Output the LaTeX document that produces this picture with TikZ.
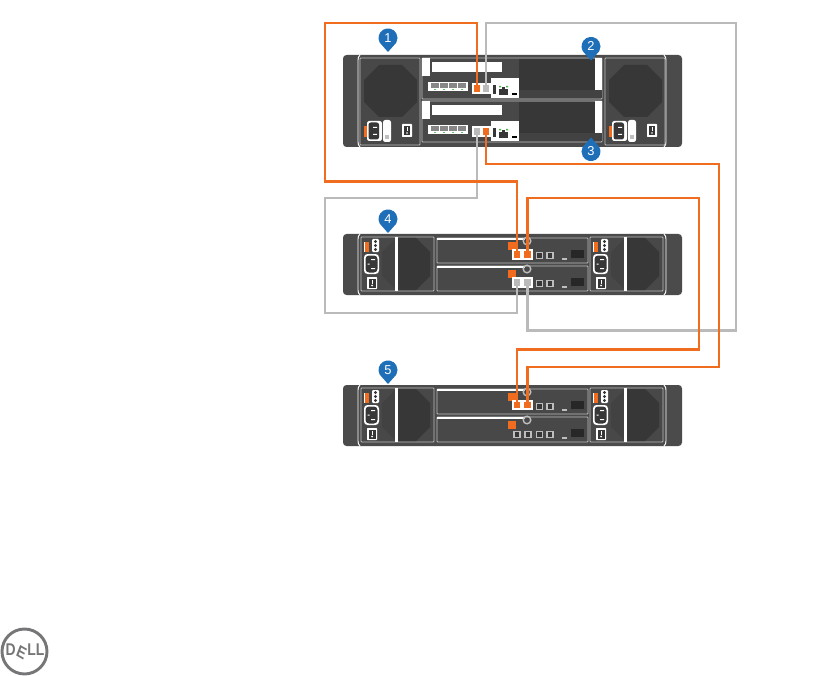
\documentclass[tikz,border=0pt]{standalone}
\usepackage{fontspec}
\setmainfont{Liberation Sans}
\usepackage{xcolor}
\usepackage{graphicx}
\usepackage{tikz}
\usetikzlibrary{positioning, calc}
\definecolor{wireorange}{RGB}{240, 108, 30}
\definecolor{wiregrey}{RGB}{186, 186, 186}
\definecolor{calloutblue}{RGB}{31, 110, 184}
\definecolor{chassis}{RGB}{75, 75, 76}
\definecolor{panel}{RGB}{72, 72, 73}
\definecolor{darkpanel}{RGB}{55, 55, 56}
\definecolor{fanlight}{RGB}{66, 66, 67}
\definecolor{edge}{RGB}{190, 190, 190}
\definecolor{logogrey}{RGB}{118, 118, 120}
\tikzset{
  wire/.style={line width=2.4pt},
  outline/.style={draw=edge, line width=0.7pt, rounded corners=0.6pt},
  orangeport/.style={fill=wireorange, draw=white, line width=1.9pt, minimum size=0.255cm, inner sep=0pt, outer sep=0pt},
  greyport/.style={orangeport, fill=wiregrey},
  callnum/.style={text=white, font=\fontsize{11}{12}\selectfont, inner sep=0pt},
}

% one marker with its digit
\newcommand{\callout}[5]{
  \begin{scope}[shift={(#1,#2)}, rotate=#3]
    \fill[calloutblue] (0,14) -- (-8.2,4.7) arc[start angle=150, end angle=390, radius=9.5] -- cycle;
  \end{scope}
  \node[callnum] (#4) at (#1,#2) {#5};
}

% chassis shell, 61 high
\newcommand{\shell}[1]{
  \fill[chassis, rounded corners=3pt] (343,#1) rectangle (682,#1+61);
  \draw[white, line width=0.8pt] (360,#1) to[out=-135, in=90] (358,#1+5) -- (358,#1+56) to[out=-90, in=135] (360,#1+61);
  \draw[white, line width=0.8pt] (664,#1) to[out=-45, in=90] (666,#1+5) -- (666,#1+56) to[out=-90, in=45] (664,#1+61);
}

% power unit of the expansion shelves
\newcommand{\shelfpsu}[2]{
  \begin{scope}[shift={(#1,#2)}]
    \draw[outline, fill=panel] (361,3) rectangle (434,57);
    \fill[fanlight] (382,18) -- (396,4) -- (396,56) -- (382,42) -- cycle;
    \fill[darkpanel] (398,4) -- (416,4) -- (430,18) -- (430,42) -- (416,56) -- (398,56) -- cycle;
    \fill[white] (395,3) rectangle (398,57);
    \fill[white] (364,8) rectangle (365,18);
    \fill[wireorange] (365,8) rectangle (369,18);
    \fill[white, rounded corners=1pt] (372,5) rectangle (379,18);
    \foreach \y in {7.5,11.5,15.5} \fill[darkpanel] (375.5,\y) circle (1.6);
    \fill[white, rounded corners=3pt] (364,20) rectangle (379,40);
    \fill[darkpanel, rounded corners=3pt] (365.5,21.5) rectangle (377.5,38.5);
    \fill[white] (371,25) rectangle (375,26) (371,34) rectangle (375,35) (367.5,29.5) rectangle (369.5,30.5);
    \fill[white, rounded corners=0.5pt] (367,43) rectangle (377,55);
    \fill[darkpanel] (368.5,44.5) rectangle (375.5,53.5);
    \fill[white] (371.5,45.5) rectangle (372.5,49.5);
    \fill[white] (372,51.5) circle (1);
  \end{scope}
}

% controller of the expansion shelves
\newcommand{\shelfctl}[1]{
  \draw[outline, fill=panel] (437,#1) rectangle (588,#1+25);
  \fill[white] (437,#1) rectangle (525,#1+1.6);
  \fill[wireorange] (507.5,#1+4) rectangle (515.5,#1+12);
  \draw[edge, line width=1.2pt] (527,#1+3) circle (3.8);
  \foreach \x in {539.5,550} {
    \draw[edge, fill=darkpanel, line width=1pt] (\x-3,#1+14.5) rectangle (\x+3,#1+20.5);
  }
  \fill[edge] (562,#1+20) rectangle (567,#1+22);
  \fill[darkpanel!70!black] (571,#1+12) rectangle (584,#1+20);
}

% controller of the top unit
\newcommand{\headctl}[1]{
  \draw[outline, fill=panel] (422,#1) rectangle (602,#1+41);
  \fill[darkpanel] (519,#1+1) rectangle (595,#1+32);
  \fill[fanlight] (519,#1+32) rectangle (602,#1+40);
  \fill[white] (595,#1) rectangle (602,#1+32);
  \fill[white] (422,#1) rectangle (430,#1+18);
  \fill[white] (432,#1+4) rectangle (502,#1+14);
  \fill[white] (428,#1+24) rectangle (468,#1+33);
  \foreach \x in {431,440,449,458} {
    \fill[darkpanel!60!white] (\x,#1+25.5) rectangle (\x+7.5,#1+30);
    \fill[green!60!black!60!white] (\x+3,#1+31) rectangle (\x+4.5,#1+32.5);
  }
  \fill[white] (491,#1+20) rectangle (519,#1+40);
  \fill[darkpanel] (493,#1+27) rectangle (496,#1+36);
  \fill[darkpanel] (499,#1+31) rectangle (508,#1+37);
  \fill[darkpanel] (502,#1+29.5) rectangle (505,#1+31);
  \fill[green!60!black!70!white] (499,#1+28) rectangle (501,#1+29.5) (506,#1+28) rectangle (508,#1+29.5);
  \fill[black] (512,#1+35.5) rectangle (517,#1+37);
  \fill[white] (472,#1+26) rectangle (491,#1+36);
}

\begin{document}
\begin{tikzpicture}[x=0.03cm, y=-0.03cm]
  \useasboundingbox (0,0) rectangle (833,676);

  % top unit
  \fill[chassis, rounded corners=3pt] (343,55) rectangle (682,147);
  \draw[white, line width=0.8pt] (360,55) to[out=-135, in=90] (358,60) -- (358,142) to[out=-90, in=135] (360,147);
  \draw[white, line width=0.8pt] (664,55) to[out=-45, in=90] (666,60) -- (666,142) to[out=-90, in=45] (664,147);
  \foreach \s in {0,245} {
    \begin{scope}[shift={(\s,0)}]
      \draw[outline, fill=panel] (360,58) rectangle (420,145);
      \fill[darkpanel] (364,80) -- (379,65) -- (402,65) -- (417,80) -- (417,102) -- (402,117) -- (379,117) -- (364,102) -- cycle;
      \fill[wireorange] (364,126) rectangle (367,137);
      \fill[white, rounded corners=2pt] (367,121) rectangle (382,141);
      \fill[darkpanel, rounded corners=2pt] (368.5,122.5) rectangle (379,139.5);
      \fill[white] (373,127) rectangle (377,128) (373,134) rectangle (377,135);
      \fill[white, rounded corners=2pt] (383,120) rectangle (391,142);
      \fill[gray!50] (385,135) rectangle (389,139);
      \fill[white, rounded corners=0.5pt] (402,124) rectangle (412,137);
      \fill[darkpanel] (404,126) rectangle (410,135);
      \fill[white] (406.5,127) rectangle (407.5,131);
      \fill[white] (407,133) circle (0.9);
    \end{scope}
  }
  \headctl{58}
  \headctl{101}

  % expansion shelves
  \shell{234}
  \shelfpsu{0}{234}
  \shelfpsu{229}{234}
  \shelfctl{238}
  \shelfctl{266}
  \shell{385}
  \shelfpsu{0}{385}
  \shelfpsu{229}{385}
  \shelfctl{389}
  \shelfctl{417}
  \foreach \x in {517,528} {
    \draw[edge, fill=darkpanel, line width=1pt] (\x-3,431.5) rectangle (\x+3,437.5);
  }

  % ports
  \node[orangeport] (hostAa) at (477,88.5) {};
  \node[greyport] (hostAb) at (486,88.5) {};
  \node[greyport] (hostBa) at (477,131.5) {};
  \node[orangeport] (hostBb) at (486,131.5) {};
  \node[orangeport] (shelfAa) at (517,254.5) {};
  \node[orangeport] (shelfAb) at (527.5,254.5) {};
  \node[greyport] (shelfBa) at (517,282.5) {};
  \node[greyport] (shelfBb) at (527.5,282.5) {};
  \node[orangeport] (lastAa) at (517,405) {};
  \node[orangeport] (lastAb) at (527.5,405) {};

  % cable bends
  \coordinate (orangeTop) at (325,23);
  \coordinate (orangeLow) at (517,181.5);
  \coordinate (greyTop) at (736,23);
  \coordinate (greyLow) at (527.5,330.5);
  \coordinate (greyLeft) at (325,198);
  \coordinate (greyBase) at (517,313);
  \coordinate (longRight) at (719,164);
  \coordinate (longLow) at (527.5,367);
  \coordinate (midRight) at (699,198);
  \coordinate (midLow) at (517,349.5);

  % grey cables
  \draw[wire, wiregrey] (hostAb.center) |- (greyTop) |- (greyLow) -- (shelfBb.center);
  \draw[wire, wiregrey] (hostBa.center) |- (greyLeft) |- (greyBase) -- (shelfBa.center);
  % orange cables
  \draw[wire, wireorange] (hostAa.center) |- (orangeTop) |- (orangeLow) -- (shelfAa.center);
  \draw[wire, wireorange] (hostBb.center) |- (longRight) |- (longLow) -- (lastAb.center);
  \draw[wire, wireorange] (shelfAb.center) |- (midRight) |- (midLow) -- (lastAa.center);

  % markers
  \callout{388}{38}{0}{markOne}{1}
  \callout{591}{46.5}{0}{markTwo}{2}
  \callout{591}{151.5}{180}{markThree}{3}
  \callout{388}{219}{0}{markFour}{4}
  \callout{388}{370}{0}{markFive}{5}

  % logo
  \draw[logogrey, line width=2.5pt] (24.5,651.5) circle (22.5);
  \node[text=logogrey, font=\bfseries\fontsize{14.5}{15}\selectfont, inner sep=0pt] (logo) at (25,652) {\scalebox{0.82}[1]{D\kern-0.4pt\raisebox{0.6pt}{\rotatebox{-25}{E}}\kern-0.4pt LL}};
\end{tikzpicture}
\end{document}
